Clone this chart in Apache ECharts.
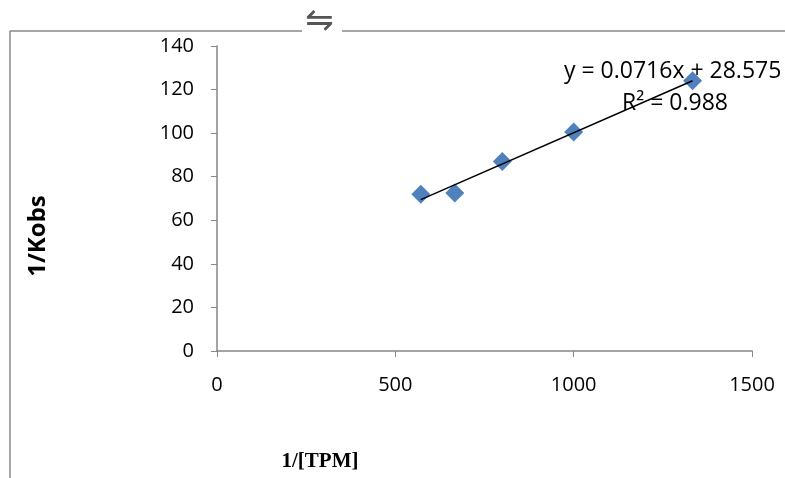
<!DOCTYPE html>
<html>
<head>
<meta charset="utf-8">
<script src="https://cdn.jsdelivr.net/npm/echarts@6/dist/echarts.min.js"></script>
<style>
  html, body { margin: 0; padding: 0; background: #fff; }
  #main { width: 785px; height: 478px; }
</style>
</head>
<body>
<div id="main"></div>
<script>
var tpm = [571.4, 666.7, 800, 1000, 1333.3];
var kobs = [72, 72.5, 87, 100.5, 124];
var slope = 0.0716;
var intercept = 28.575;
var xTicks = [0, 500, 1000, 1500];
var yTicks = [0, 20, 40, 60, 80, 100, 120, 140];

var points = tpm.map(function (x, i) { return [x, kobs[i]]; });
var trendX = [tpm[0], tpm[tpm.length - 1]];
var trend = trendX.map(function (x) { return [x, slope * x + intercept]; });

var myChart = echarts.init(document.getElementById('main'));
var option = {
    animation: false,
    grid: { left: 217, right: 33, top: 46, bottom: 127 },
    xAxis: {
        type: 'value',
        min: xTicks[0],
        max: xTicks[xTicks.length - 1],
        interval: 500,
        axisLine: { lineStyle: { color: '#868686', width: 1.5 } },
        axisTick: { show: true, length: 6, lineStyle: { color: '#868686' } },
        axisLabel: { color: '#000', fontSize: 20, fontFamily: 'Open Sans', margin: 24,
            formatter: function (v) { return String(v); } },
        splitLine: { show: false }
    },
    yAxis: {
        type: 'value',
        min: yTicks[0],
        max: yTicks[yTicks.length - 1],
        interval: 20,
        axisLine: { show: true, lineStyle: { color: '#868686', width: 1.5 } },
        axisTick: { show: true, length: 6, lineStyle: { color: '#868686' } },
        axisLabel: { color: '#000', fontSize: 20, fontFamily: 'Open Sans', margin: 23 },
        splitLine: { show: false }
    },
    series: [
        {
            type: 'scatter',
            data: points,
            symbol: 'diamond',
            symbolSize: 19,
            itemStyle: { color: '#4f81bd', opacity: 1 },
            z: 3
        },
        {
            type: 'line',
            data: trend,
            symbol: 'none',
            lineStyle: { color: '#000', width: 1.5 },
            z: 4
        }
    ],
    graphic: [
        { type: 'line', shape: { x1: 10, y1: 31, x2: 10, y2: 478 }, style: { stroke: '#888', lineWidth: 1.5 } },
        { type: 'line', shape: { x1: 10, y1: 31, x2: 302, y2: 31 }, style: { stroke: '#888', lineWidth: 1.5 } },
        { type: 'line', shape: { x1: 342, y1: 31, x2: 785, y2: 31 }, style: { stroke: '#888', lineWidth: 1.5 } },
        { type: 'text', left: 305, top: 5, style: { text: '⇋', fontSize: 34, fill: '#555', fontFamily: 'DejaVu Sans' } },
        { type: 'text', left: 564, top: 60, style: { text: 'y = 0.0716x + 28.575', fontSize: 23, fill: '#000', fontFamily: 'Open Sans' } },
        { type: 'text', left: 622, top: 92, style: { text: 'R² = 0.988', fontSize: 23, fill: '#000', fontFamily: 'Open Sans' } },
        { type: 'text', x: 38, y: 236, rotation: Math.PI / 2, style: { text: '1/Kobs', fontSize: 24, fontWeight: 'bold', fill: '#000', fontFamily: 'Open Sans', align: 'center', verticalAlign: 'middle' } },
        { type: 'text', x: 320, y: 462, style: { text: '1/[TPM]', fontSize: 21, fontWeight: 'bold', fill: '#000', fontFamily: 'Liberation Serif', align: 'center', verticalAlign: 'middle' } }
    ]
};
myChart.setOption(option);
</script>
</body>
</html>
